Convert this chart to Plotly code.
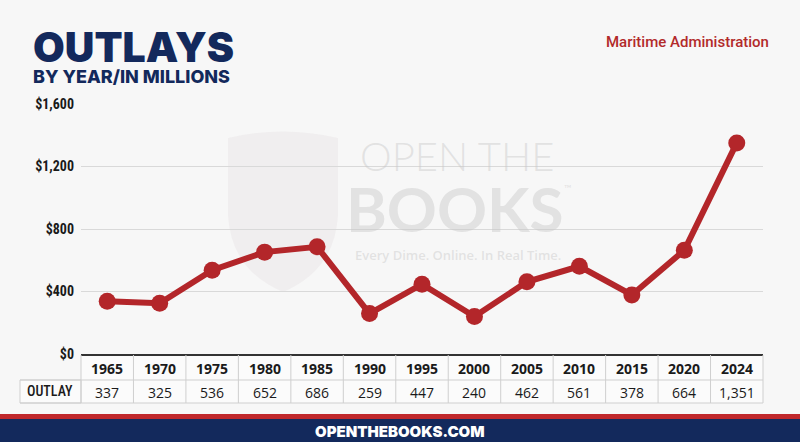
import plotly.graph_objects as go

years = ["1965", "1970", "1975", "1980", "1985", "1990", "1995",
         "2000", "2005", "2010", "2015", "2020", "2024"]
outlays = [337, 325, 536, 652, 686, 259, 447, 240, 462, 561, 378, 664, 1351]
outlay_labels = ["337", "325", "536", "652", "686", "259", "447",
                 "240", "462", "561", "378", "664", "1,351"]
tick_vals = [0, 400, 800, 1200, 1600]
tick_text = ["$0", "$400", "$800", "$1,200", "$1,600"]

RED = "#b3262a"
NAVY = "#13295c"
GRID = "#d9d9d9"
BORDER = "#cfcfcf"
TXT = "#1a1a1a"
NARROW = "Liberation Sans Narrow, Roboto Condensed, Roboto, Open Sans, sans-serif"

x_idx = list(range(len(years)))

fig = go.Figure()
fig.add_trace(go.Scatter(
    x=x_idx, y=outlays, mode="lines+markers",
    line=dict(color=RED, width=6),
    marker=dict(color=RED, size=17),
    hoverinfo="skip", showlegend=False,
))

L, R, T, B = 81, 37, 104, 88
PW = 800 - L - R
PH = 442 - T - B
n = len(years)

def px_x(px):
    return (px - L) / PW

def px_y(py):
    return (442 - B - py) / PH

shapes = []
# watermark shield (faint)
shapes.append(dict(type="path", xref="paper", yref="paper", layer="below",
                   path=f"M {px_x(228)},{px_y(138)} Q {px_x(283)},{px_y(125)} {px_x(338)},{px_y(138)} "
                        f"L {px_x(338)},{px_y(215)} Q {px_x(335)},{px_y(270)} {px_x(283)},{px_y(292)} "
                        f"Q {px_x(231)},{px_y(270)} {px_x(228)},{px_y(215)} Z",
                   fillcolor="rgba(215,205,210,0.2)", line=dict(width=0)))

y_top = px_y(355)
y_mid = px_y(380)
y_bot = px_y(403)
x_lab = px_x(20)
# table background
shapes.append(dict(type="rect", xref="paper", yref="paper", x0=0, x1=1, y0=y_bot, y1=y_top,
                   fillcolor="rgba(255,255,255,0.55)", line=dict(width=0), layer="below"))
shapes.append(dict(type="rect", xref="paper", yref="paper", x0=x_lab, x1=0, y0=y_bot, y1=y_mid,
                   fillcolor="rgba(255,255,255,0.55)", line=dict(color=BORDER, width=1), layer="below"))
for i in range(n + 1):
    xv = i / n
    shapes.append(dict(type="line", xref="paper", yref="paper", x0=xv, x1=xv,
                       y0=y_bot, y1=y_top, line=dict(color=BORDER, width=1)))
for yv in (y_mid, y_bot):
    shapes.append(dict(type="line", xref="paper", yref="paper", x0=x_lab, x1=1,
                       y0=yv, y1=yv, line=dict(color=BORDER, width=1)))
# footer bands
shapes.append(dict(type="rect", xref="paper", yref="paper", x0=px_x(-5), x1=px_x(805),
                   y0=px_y(419), y1=px_y(414), fillcolor="#c0282b", line=dict(width=0)))
shapes.append(dict(type="rect", xref="paper", yref="paper", x0=px_x(-5), x1=px_x(805),
                   y0=px_y(447), y1=px_y(419), fillcolor=NAVY, line=dict(width=0)))

ann = []

def add(**kw):
    kw.setdefault("xanchor", "center")
    kw.setdefault("yanchor", "middle")
    kw.setdefault("showarrow", False)
    ann.append(kw)

for xi, yr, lab in zip(x_idx, years, outlay_labels):
    add(x=xi, xref="x", y=px_y(368), yref="paper", text=f"<b>{yr}</b>",
        font=dict(family="Open Sans", size=14, color=TXT))
    add(x=xi, xref="x", y=px_y(392), yref="paper", text=lab,
        font=dict(family="Open Sans", size=14, color=TXT))
add(x=px_x(50), xref="paper", y=px_y(391), yref="paper", text="OUTLAY",
    font=dict(family=NARROW, size=14, color=TXT, weight=500))

# titles
add(x=px_x(31), xref="paper", y=px_y(47), yref="paper", text="OUTLAYS", xanchor="left",
    font=dict(family="Inter", size=41, color=NAVY, weight=900))
add(x=px_x(31), xref="paper", y=px_y(77), yref="paper", text="BY YEAR/IN MILLIONS", xanchor="left",
    font=dict(family="Inter", size=18, color=NAVY, weight=800))
add(x=px_x(771), xref="paper", y=px_y(42), yref="paper", text="Maritime Administration",
    xanchor="right", font=dict(family="Roboto", size=15, color="#b22a2a", weight=500))
# watermark
WM = "rgba(200,200,200,0.45)"
add(x=px_x(457), xref="paper", y=px_y(156), yref="paper", text="OPEN THE",
    font=dict(family="Lato", size=40, color=WM, weight=300))
add(x=px_x(455), xref="paper", y=px_y(208), yref="paper", text="BOOKS",
    font=dict(family="Lato", size=62, color=WM, weight=700))
add(x=px_x(568), xref="paper", y=px_y(188), yref="paper", text="™",
    font=dict(family="Lato", size=10, color=WM))
add(x=px_x(458), xref="paper", y=px_y(255), yref="paper",
    text="Every Dime. Online. In Real Time.",
    font=dict(family="Open Sans", size=13, color=WM, weight=600))
# footer text
add(x=px_x(400), xref="paper", y=px_y(431), yref="paper", text="OPENTHEBOOKS.COM",
    font=dict(family="Inter", size=15, color="white", weight=900))

fig.update_layout(
    width=800, height=442,
    margin=dict(l=L, r=R, t=T, b=B),
    paper_bgcolor="#f7f7f7", plot_bgcolor="rgba(0,0,0,0)",
    shapes=shapes, annotations=ann,
    xaxis=dict(range=[-0.5, n - 0.5], showticklabels=False,
               showgrid=False, showline=True, linecolor="#333333", linewidth=1.5,
               zeroline=False, fixedrange=True),
    yaxis=dict(range=[0, 1600], tickvals=tick_vals, ticktext=tick_text,
               showgrid=True, gridcolor=GRID, gridwidth=1, zeroline=False,
               showline=False, ticks="", ticklabelstandoff=6,
               tickfont=dict(family=NARROW, size=14, color=TXT, weight=700),
               fixedrange=True),
    showlegend=False,
)

fig.write_html("out.html", config={"displayModeBar": False},
               post_script="document.body.style.margin='0';")
